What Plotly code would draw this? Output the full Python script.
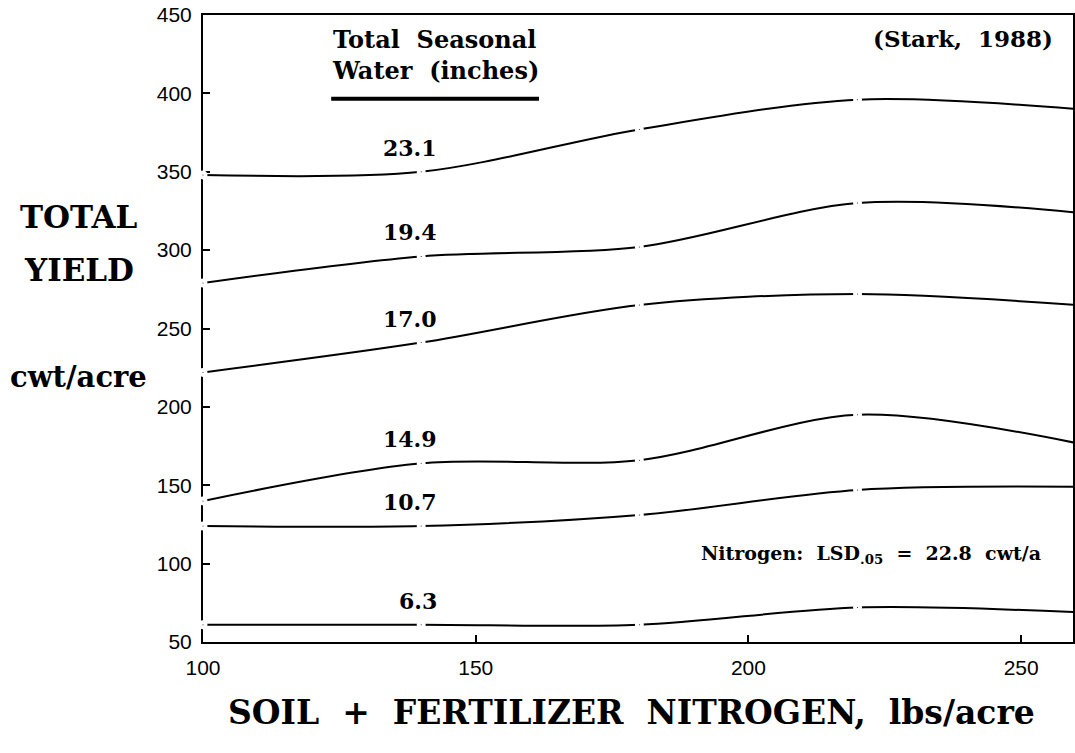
import plotly.graph_objects as go

nitrogen = [100, 140, 180, 220, 260]
water_labels = ["23.1", "19.4", "17.0", "14.9", "10.7", "6.3"]
yield_23_1 = [348, 350, 377, 396, 390]
yield_19_4 = [279, 296, 302, 330, 324]
yield_17_0 = [222, 241, 265, 272, 265]
yield_14_9 = [140, 164, 166, 195, 177]
yield_10_7 = [124, 124, 131, 147, 149]
yield_6_3 = [61, 61, 61, 72, 69]
series = [yield_23_1, yield_19_4, yield_17_0, yield_14_9, yield_10_7, yield_6_3]

x_ticks = [100, 150, 200, 250]
y_ticks = [50, 100, 150, 200, 250, 300, 350, 400, 450]

SERIF = "DejaVu Serif"
TICKFONT = "Liberation Sans Narrow, Liberation Sans, Arial"

fig = go.Figure()
for lab, ys in zip(water_labels, series):
    fig.add_trace(go.Scatter(
        x=nitrogen, y=ys, mode="lines+markers", name=lab,
        line=dict(color="black", width=2, shape="spline", smoothing=0.9),
        marker=dict(color="black", size=5, line=dict(color="white", width=4)),
        cliponaxis=False, showlegend=False, hoverinfo="skip",
    ))
    fig.add_annotation(x=140, y=ys[1], text="<b>%s</b>" % lab, showarrow=False,
                       xanchor="right", yanchor="bottom", xshift=18, yshift=9,
                       font=dict(family=SERIF, size=22, color="black"))

# plot area: left 203, right 1073, top 15, bottom 642 in the 1075x753 window
fig.add_annotation(xref="paper", yref="paper", x=0.146, y=0.987, xanchor="left", yanchor="top",
                   text="<b>Total  Seasonal<br>Water  (inches)</b>", align="left", showarrow=False,
                   font=dict(family=SERIF, size=24, color="black"))
fig.add_shape(type="line", xref="x", yref="y", x0=123.5, x1=161.6, y0=396.5, y1=396.5,
              line=dict(color="black", width=4))
fig.add_annotation(xref="paper", yref="paper", x=0.979, y=0.987, xanchor="right", yanchor="top",
                   text="<b>(Stark,  1988)</b>", showarrow=False,
                   font=dict(family=SERIF, size=23, color="black"))
fig.add_annotation(x=254, y=106, xanchor="right", yanchor="middle",
                   text="<b>Nitrogen:  LSD<sub>.05</sub>  =  22.8  cwt/a</b>", showarrow=False,
                   font=dict(family=SERIF, size=19, color="black"))

for txt, yy, sz in [("<b>TOTAL</b>", 217, 31), ("<b>YIELD</b>", 270, 31), ("<b>cwt/acre</b>", 377, 29)]:
    fig.add_annotation(xref="paper", yref="paper", x=-0.143, y=1 - (yy - 15) / 627,
                       xanchor="center", yanchor="middle", text=txt, showarrow=False,
                       font=dict(family=SERIF, size=sz, color="black"))

fig.add_annotation(xref="paper", yref="paper", x=0.492, y=-0.113, xanchor="center", yanchor="middle",
                   text="<b>SOIL  +  FERTILIZER  NITROGEN,  lbs/acre</b>", showarrow=False,
                   font=dict(family=SERIF, size=33, color="black"))

axis_common = dict(showline=True, linecolor="black", linewidth=2, mirror=True,
                   ticks="inside", ticklen=7, tickwidth=2, tickcolor="black",
                   showgrid=False, zeroline=False, layer="below traces",
                   ticklabeloverflow="allow", automargin=False,
                   tickfont=dict(family=TICKFONT, size=21, color="black"))
fig.update_xaxes(range=[100, 259.5], tickvals=x_ticks, ticklabelstandoff=6, **axis_common)
fig.update_yaxes(range=[50, 450], tickvals=y_ticks, ticklabelstandoff=5, **axis_common)

fig.update_layout(width=1075, height=753, plot_bgcolor="white", paper_bgcolor="white",
                  margin=dict(l=203, r=2, t=15, b=111, autoexpand=False))
fig.write_html("out.html", config={"displayModeBar": False},
               post_script="document.body.style.margin='0px';")
